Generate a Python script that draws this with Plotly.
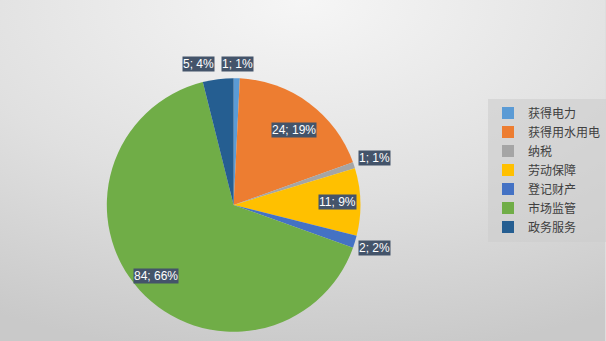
import base64, math
import plotly.graph_objects as go

categories = ["获得电力", "获得用水用电", "纳税", "劳动保障", "登记财产", "市场监管", "政务服务"]
values = [1, 24, 1, 11, 2, 84, 5]
colors = ["#5b9bd5", "#ed7d31", "#a5a5a5", "#ffc000", "#4472c4", "#70ad47", "#255e91"]
# label placement styling: radial factor (fraction of radius) and pixel x-shift
label_r = [1.11, 0.74, 1.17, 0.82, 1.16, 0.83, 1.12]
label_dx = [0, 5, 0, 0, 0, 0, -18]

W, H = 606, 341
cx, cy, R = 234, 205, 127

svg = f'''<svg xmlns="http://www.w3.org/2000/svg" width="{W}" height="{H}">
<defs><radialGradient id="g" cx="0.5" cy="0" r="1.05" gradientUnits="objectBoundingBox">
<stop offset="0" stop-color="#f6f6f6"/><stop offset="0.55" stop-color="#e0e0e0"/><stop offset="1" stop-color="#c9c9c9"/>
</radialGradient></defs><rect x="0" y="0" width="{W}" height="{H}" fill="url(#g)"/></svg>'''
src = "data:image/svg+xml;base64," + base64.b64encode(svg.encode()).decode()

fig = go.Figure(go.Pie(
    labels=categories, values=values, sort=False, direction="clockwise", rotation=0,
    marker=dict(colors=colors, line=dict(width=0)),
    textinfo="none", hoverinfo="label+value+percent",
    domain=dict(x=[(cx - R) / W, (cx + R) / W], y=[1 - (cy + R) / H, 1 - (cy - R) / H]),
))

total = sum(values)
cum = 0
anns = []
for i, v in enumerate(values):
    mid = (cum + v / 2) / total * 2 * math.pi
    cum += v
    px = cx + label_r[i] * R * math.sin(mid) + label_dx[i]
    py = cy - label_r[i] * R * math.cos(mid)
    anns.append(dict(
        x=px / W, y=1 - py / H, xref="paper", yref="paper", showarrow=False,
        text=f"{v}; {round(v / total * 100)}%",
        font=dict(family="Liberation Sans, Arial", size=12, color="white"),
        bgcolor="#44546a", borderpad=0, xanchor="center", yanchor="middle",
    ))

fig.update_layout(
    width=W, height=H, margin=dict(l=0, r=0, t=0, b=0),
    paper_bgcolor="#dedede", plot_bgcolor="rgba(0,0,0,0)",
    images=[dict(source=src, xref="paper", yref="paper", x=0, y=1, sizex=1, sizey=1,
                 sizing="stretch", layer="below", xanchor="left", yanchor="top")],
    annotations=anns,
    legend=dict(x=489 / W, xanchor="left", y=1 - 170 / H, yanchor="middle",
                bgcolor="rgba(205,205,205,0.6)", borderwidth=0,
                font=dict(family="Noto Sans CJK SC", size=12, color="#404040"),
                itemwidth=30, tracegroupgap=0),
    showlegend=True,
)
fig.write_html("out.html")
